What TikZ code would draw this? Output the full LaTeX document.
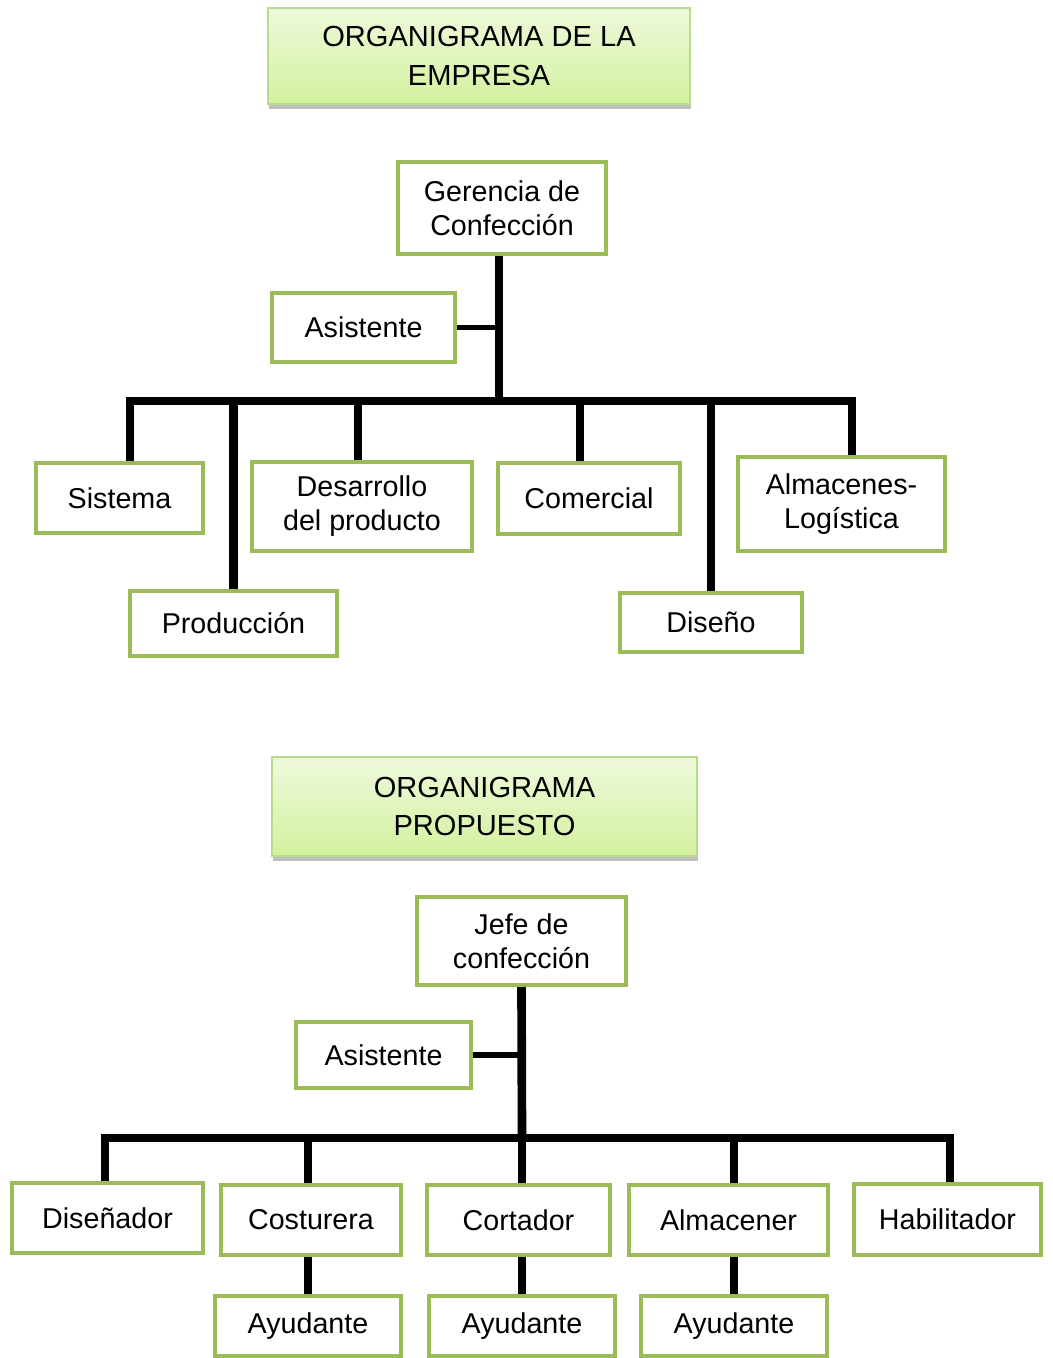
\documentclass[tikz,border=0pt]{standalone}
\usepackage{fontspec}
\setmainfont{Liberation Sans}
\usetikzlibrary{shadows}
\definecolor{boxgreen}{HTML}{9BBB59}
\definecolor{titleedge}{HTML}{B9DB8C}
\definecolor{titletop}{HTML}{EEF9DC}
\definecolor{titlebot}{HTML}{D3F19E}
\tikzset{
  orgnode/.style={draw=boxgreen, line width=3pt, fill=white, inner sep=0pt,
    align=center, font=\fontsize{21.5pt}{25.5pt}\selectfont},
  titlenode/.style={draw=titleedge, line width=1.5pt, top color=titletop,
    bottom color=titlebot, inner sep=0pt, align=center,
    font=\fontsize{21.8pt}{29.2pt}\selectfont,
    drop shadow={shadow xshift=1pt, shadow yshift=-3.5pt, opacity=0.45, fill=black!55}},
  conn/.style={line width=6.5pt, black},
  thinconn/.style={line width=4pt, black},
}
% box from corner (x1,y1) to (x2,y2), measured in picture units
\newcommand\orgbox[7][orgnode]{%
  \node[#1, minimum width={0.75pt*(#5-#3)}, minimum height={0.75pt*(#6-#4)}]
    (#2) at ({(#3+#5)/2},{(#4+#6)/2}) {#7};}
\begin{document}
\begin{tikzpicture}[x=0.75pt,y=-0.75pt]
\useasboundingbox (0,0) rectangle (1052,1358);

% ---------- current chart ----------
\orgbox[titlenode]{t1}{268}{8}{690}{104}{ORGANIGRAMA DE LA\\EMPRESA}
\orgbox{ger}{398}{162}{606}{254}{Gerencia de\\Confección}
\orgbox{asi1}{272}{293}{455}{362}{Asistente}
\orgbox{sis}{36}{463}{203}{533}{Sistema}
\orgbox{pro}{130}{591}{337}{656}{Producción}
\orgbox{des}{252}{462}{472}{551}{Desarrollo\\del producto}
\orgbox{com}{498}{463}{680}{534}{Comercial}
\orgbox{dis}{620}{593}{802}{652}{Diseño}
\orgbox{alm}{738}{457}{945}{551}{Almacenes-\\Logística}

\coordinate (j1) at (499,401);
\draw[conn] ([xshift=-2.25pt]ger.south) -- (j1);
\draw[thinconn] (asi1.east) -- (asi1.east -| j1);
\draw[conn] ([xshift=7.9pt]sis.north) |- (j1);
\draw[conn] ([xshift=7.9pt]alm.north) |- (j1);
\draw[conn] (pro.north) -- (pro.north |- j1);
\draw[conn] ([xshift=-3pt]des.north) -- ([xshift=-3pt]des.north |- j1);
\draw[conn] ([xshift=-6.75pt]com.north) -- ([xshift=-6.75pt]com.north |- j1);
\draw[conn] (dis.north) -- (dis.north |- j1);

% ---------- proposed chart ----------
\orgbox[titlenode]{t2}{272}{757}{697}{856}{ORGANIGRAMA\\PROPUESTO}
\orgbox{jefe}{417}{897}{626}{985}{Jefe de\\confección}
\orgbox{asi2}{296}{1022}{471}{1088}{Asistente}
\orgbox{dsn}{12}{1183}{203}{1253}{Diseñador}
\orgbox{cos}{221}{1185}{401}{1255}{Costurera}
\orgbox{cor}{427}{1185}{610}{1255}{Cortador}
\orgbox{amc}{629}{1185}{828}{1255}{Almacener}
\orgbox{hab}{854}{1184}{1041}{1255}{Habilitador}
\orgbox{ay1}{215}{1296}{401}{1356}{Ayudante}
\orgbox{ay2}{429}{1296}{615}{1356}{Ayudante}
\orgbox{ay3}{641}{1296}{827}{1356}{Ayudante}

\coordinate (j2) at (522,1138);
\draw[conn] (jefe.south) -- (j2);
\draw[thinconn] (asi2.east) -- (asi2.east -| j2);
\draw[conn] ([xshift=-1.9pt]dsn.north) |- (j2);
\draw[conn] ([xshift=1.9pt]hab.north) |- (j2);
\draw[conn] (ay1.north |- cos.north) -- (ay1.north |- j2);
\draw[conn] (j2) -- (j2 |- cor.north);
\draw[conn] (ay3.north |- amc.north) -- (ay3.north |- j2);
\draw[conn] (ay1.north) -- (ay1.north |- cos.south);
\draw[conn] (ay2.north) -- (ay2.north |- cor.south);
\draw[conn] (ay3.north) -- (ay3.north |- amc.south);
\end{tikzpicture}
\end{document}
